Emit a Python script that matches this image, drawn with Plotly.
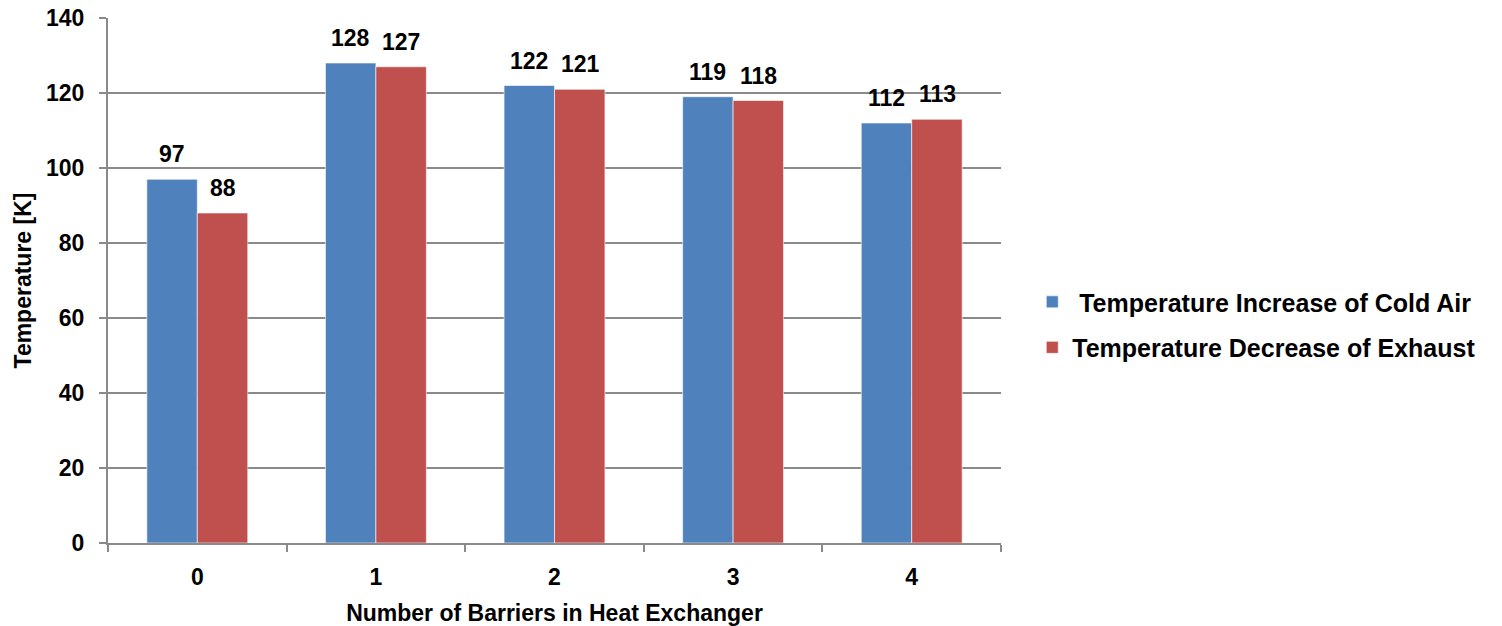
import plotly.graph_objects as go

barriers = ["0", "1", "2", "3", "4"]
cold_air_increase = [97, 128, 122, 119, 112]
exhaust_decrease = [88, 127, 121, 118, 113]
series_names = ["\u00a0Temperature Increase of Cold Air", "Temperature Decrease of Exhaust"]
y_ticks = [0, 20, 40, 60, 80, 100, 120, 140]

FONT = "Liberation Sans, Arial, sans-serif"
SIZE = 23
BLUE = "#4F81BD"
RED = "#C0504D"
GRID = "#8A8A8A"

fig = go.Figure()
for k, (name, vals, color) in enumerate([(series_names[0], cold_air_increase, BLUE),
                                         (series_names[1], exhaust_decrease, RED)]):
    fig.add_trace(go.Bar(
        x=barriers, y=vals, name=f"<b>{name}</b>", legendgroup=f"g{k}",
        marker=dict(color=color, line=dict(color="rgba(255,255,255,0.6)", width=1)),
    ))

# value labels above each bar, placed from the same data
offsets = [-0.143, 0.143]
for vals, off in zip([cold_air_increase, exhaust_decrease], offsets):
    for i, v in enumerate(vals):
        fig.add_annotation(
            x=i + off, y=v, xref="x", yref="y", text=f"<b>{v}</b>",
            showarrow=False, yanchor="bottom", yshift=10,
            font=dict(family=FONT, size=SIZE, color="black"),
        )

fig.update_layout(
    width=1502, height=626,
    margin=dict(l=108, r=501, t=18, b=83),
    paper_bgcolor="white", plot_bgcolor="white",
    barmode="group", bargap=0.435, bargroupgap=0,
    font=dict(family=FONT, size=SIZE, color="black"),
    showlegend=True,
    legend=dict(x=1.035, y=0.416, xanchor="left", yanchor="middle",
                font=dict(family=FONT, size=25, color="black"),
                itemwidth=30, tracegroupgap=10, bgcolor="rgba(0,0,0,0)"),
)
fig.update_xaxes(
    type="category", range=[-0.5, 4.5], automargin=False,
    tickvals=barriers, ticktext=[f"<b>{b}</b>" for b in barriers],
    showline=True, linecolor=GRID, linewidth=2,
    ticks="outside", ticklen=7, tickcolor=GRID, tickwidth=2,
    tickson="boundaries", ticklabelstandoff=12,
    tickfont=dict(family=FONT, size=SIZE, color="black"),
    title=dict(text="<b>Number of Barriers in Heat Exchanger</b>",
               font=dict(family=FONT, size=SIZE, color="black"), standoff=18),
    showgrid=False,
)
fig.update_yaxes(
    range=[0, 140], tickvals=y_ticks, automargin=False,
    ticktext=[f"<b>{t}</b>" for t in y_ticks],
    showline=True, linecolor=GRID, linewidth=2,
    ticks="outside", ticklen=7, tickcolor=GRID, tickwidth=2,
    ticklabelstandoff=10,
    showgrid=True, gridcolor=GRID, gridwidth=2,
    zeroline=False,
    tickfont=dict(family=FONT, size=SIZE, color="black"),
    title=dict(text="<b>Temperature [K]</b>",
               font=dict(family=FONT, size=SIZE, color="black"), standoff=8),
)

fig.write_html("out.html")
